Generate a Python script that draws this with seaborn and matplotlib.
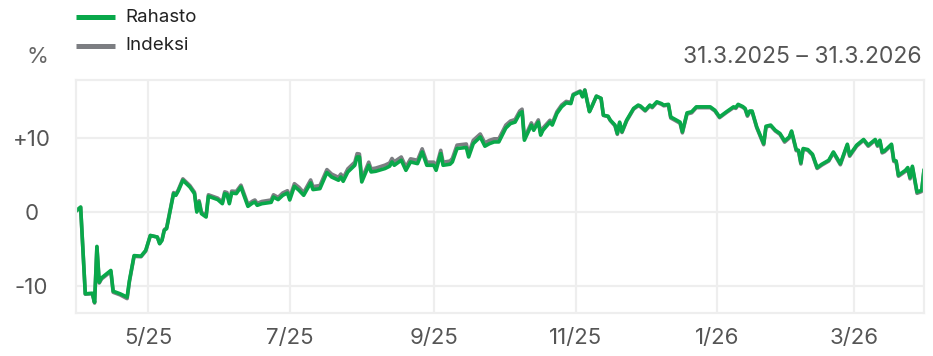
import matplotlib
matplotlib.use("Agg")
import matplotlib.pyplot as plt
from matplotlib.lines import Line2D
import pandas as pd
import seaborn as sns

# --- data -------------------------------------------------------------
dates = [
    "2025-03-31", "2025-04-02", "2025-04-04", "2025-04-07", "2025-04-08", "2025-04-09", "2025-04-10", "2025-04-11",
    "2025-04-15", "2025-04-16", "2025-04-19", "2025-04-22", "2025-04-23", "2025-04-25", "2025-04-28", "2025-04-30",
    "2025-05-02", "2025-05-05", "2025-05-06", "2025-05-07", "2025-05-08", "2025-05-09", "2025-05-12", "2025-05-13",
    "2025-05-14", "2025-05-16", "2025-05-19", "2025-05-21", "2025-05-22", "2025-05-23", "2025-05-24", "2025-05-26",
    "2025-05-27", "2025-05-31", "2025-06-02", "2025-06-03", "2025-06-04", "2025-06-05", "2025-06-06", "2025-06-08",
    "2025-06-10", "2025-06-11", "2025-06-13", "2025-06-15", "2025-06-16", "2025-06-17", "2025-06-19", "2025-06-23",
    "2025-06-24", "2025-06-26", "2025-06-28", "2025-06-30", "2025-07-01", "2025-07-03", "2025-07-05", "2025-07-07",
    "2025-07-10", "2025-07-11", "2025-07-14", "2025-07-17", "2025-07-19", "2025-07-22", "2025-07-23", "2025-07-24",
    "2025-07-26", "2025-07-29", "2025-07-30", "2025-07-31", "2025-08-01", "2025-08-04", "2025-08-05", "2025-08-07",
    "2025-08-11", "2025-08-13", "2025-08-14", "2025-08-15", "2025-08-18", "2025-08-20", "2025-08-22", "2025-08-25",
    "2025-08-27", "2025-08-29", "2025-09-01", "2025-09-02", "2025-09-04", "2025-09-05", "2025-09-08", "2025-09-09",
    "2025-09-11", "2025-09-15", "2025-09-16", "2025-09-18", "2025-09-21", "2025-09-23", "2025-09-25", "2025-09-27",
    "2025-09-29", "2025-10-02", "2025-10-04", "2025-10-06", "2025-10-08", "2025-10-09", "2025-10-10", "2025-10-13",
    "2025-10-14", "2025-10-16", "2025-10-17", "2025-10-18", "2025-10-21", "2025-10-22", "2025-10-24", "2025-10-26",
    "2025-10-28", "2025-10-30", "2025-10-31", "2025-11-03", "2025-11-04", "2025-11-05", "2025-11-07", "2025-11-08",
    "2025-11-10", "2025-11-12", "2025-11-13", "2025-11-15", "2025-11-16", "2025-11-18", "2025-11-19", "2025-11-20",
    "2025-11-21", "2025-11-23", "2025-11-26", "2025-11-28", "2025-11-29", "2025-12-01", "2025-12-03", "2025-12-04",
    "2025-12-06", "2025-12-08", "2025-12-09", "2025-12-11", "2025-12-12", "2025-12-14", "2025-12-16", "2025-12-17",
    "2025-12-19", "2025-12-21", "2025-12-23", "2025-12-29", "2025-12-31", "2026-01-02", "2026-01-05", "2026-01-08",
    "2026-01-09", "2026-01-10", "2026-01-12", "2026-01-13", "2026-01-14", "2026-01-15", "2026-01-16", "2026-01-18",
    "2026-01-21", "2026-01-22", "2026-01-24", "2026-01-26", "2026-01-28", "2026-01-30", "2026-02-01", "2026-02-02",
    "2026-02-04", "2026-02-05", "2026-02-06", "2026-02-07", "2026-02-09", "2026-02-11", "2026-02-13", "2026-02-15",
    "2026-02-18", "2026-02-20", "2026-02-23", "2026-02-26", "2026-02-27", "2026-03-02", "2026-03-05", "2026-03-07",
    "2026-03-10", "2026-03-11", "2026-03-12", "2026-03-13", "2026-03-14", "2026-03-17", "2026-03-18", "2026-03-19",
    "2026-03-20", "2026-03-23", "2026-03-24", "2026-03-25", "2026-03-26", "2026-03-28", "2026-03-30", "2026-03-31",
]

rahasto = [
    0.1, 0.65, -11.05, -10.97, -12.2, -4.66, -9.5, -8.9,
    -7.9, -10.7, -11.05, -11.5, -9.26, -5.9, -5.97, -5.2,
    -3.18, -3.4, -4.3, -3.85, -2.5, -2.27, 2.46, 2.23,
    2.8, 4.26, 3.35, 2.46, -0.03, 1.3, -0.25, -0.7,
    2.1, 1.65, 1.1, 2.46, 2.36, 1.1, 2.54, 2.46,
    3.35, 2.46, 0.74, 1.19, 1.32, 0.88, 1.1, 1.28,
    2.0, 1.65, 2.23, 2.54, 1.6, 3.45, 2.9, 2.23,
    3.9, 3.0, 3.13, 5.3, 4.7, 4.26, 4.7, 4.12,
    5.38, 6.28, 7.4, 7.4, 4.03, 6.28, 5.38, 5.47,
    5.84, 6.15, 6.73, 6.28, 6.96, 5.6, 6.73, 6.5,
    8.08, 6.28, 6.28, 5.6, 7.86, 6.28, 6.42, 6.73,
    8.54, 8.68, 7.4, 9.2, 10.1, 8.85, 9.2, 9.43,
    9.43, 11.3, 11.9, 12.1, 13.27, 13.5, 9.66, 11.7,
    11.0, 12.1, 10.34, 11.0, 12.1, 11.7, 13.27, 14.16,
    14.7, 14.6, 15.74, 16.2, 15.5, 16.4, 13.5, 14.16,
    15.6, 15.3, 13.04, 12.9, 12.36, 11.7, 10.57, 12.1,
    10.8, 12.36, 13.95, 14.4, 14.26, 13.7, 14.4, 14.16,
    14.84, 14.6, 14.4, 14.5, 12.8, 12.45, 12.1, 10.8,
    13.35, 13.5, 14.16, 14.16, 13.7, 12.8, 13.5, 14.16,
    14.08, 14.5, 14.2, 13.95, 13.04, 13.6, 13.6, 11.46,
    9.2, 11.55, 11.7, 11.0, 10.57, 9.57, 10.1, 10.9,
    8.4, 8.3, 6.6, 8.54, 8.4, 7.77, 5.97, 6.42,
    6.96, 8.08, 6.5, 9.12, 7.64, 8.99, 9.76, 8.99,
    9.76, 8.99, 9.66, 8.08, 8.22, 9.12, 6.96, 6.87,
    4.93, 5.6, 5.97, 4.62, 6.15, 2.68, 2.9, 5.7,
]

indeksi = [
    0.1, 0.6, -11.1, -11.05, -12.3, -4.75, -9.6, -9.05,
    -8.05, -10.85, -11.2, -11.7, -9.4, -6.0, -6.05, -5.3,
    -3.2, -3.4, -4.25, -3.8, -2.4, -2.15, 2.6, 2.4,
    2.95, 4.45, 3.55, 2.65, 0.15, 1.5, -0.05, -0.5,
    2.3, 1.85, 1.3, 2.7, 2.6, 1.3, 2.8, 2.75,
    3.6, 2.75, 1.0, 1.45, 1.6, 1.15, 1.4, 1.6,
    2.3, 1.95, 2.55, 2.85, 1.95, 3.8, 3.3, 2.6,
    4.3, 3.4, 3.55, 5.7, 5.1, 4.65, 5.1, 4.55,
    5.8, 6.7, 7.85, 7.8, 4.4, 6.7, 5.8, 5.9,
    6.3, 6.6, 7.2, 6.75, 7.4, 6.05, 7.15, 6.95,
    8.5, 6.7, 6.7, 6.0, 8.3, 6.7, 6.85, 7.2,
    9.0, 9.15, 7.85, 9.65, 10.5, 9.3, 9.65, 9.85,
    9.85, 11.7, 12.25, 12.45, 13.6, 13.85, 9.95, 12.0,
    11.3, 12.4, 10.6, 11.3, 12.35, 11.95, 13.5, 14.4,
    14.9, 14.75, 15.85, 16.3, 15.6, 16.45, 13.55, 14.2,
    15.6, 15.3, 13.0, 12.85, 12.3, 11.6, 10.45, 12.0,
    10.7, 12.25, 13.85, 14.3, 14.15, 13.6, 14.3, 14.05,
    14.75, 14.5, 14.3, 14.4, 12.65, 12.3, 11.95, 10.65,
    13.2, 13.35, 14.05, 14.05, 13.6, 12.7, 13.4, 14.05,
    13.95, 14.4, 14.1, 13.85, 12.9, 13.5, 13.5, 11.35,
    9.05, 11.45, 11.6, 10.9, 10.45, 9.4, 9.95, 10.8,
    8.25, 8.2, 6.45, 8.45, 8.3, 7.65, 5.85, 6.3,
    6.85, 7.95, 6.35, 9.0, 7.5, 8.85, 9.65, 8.85,
    9.65, 8.85, 9.55, 7.95, 8.1, 9.0, 6.8, 6.75,
    4.8, 5.45, 5.85, 4.45, 6.0, 2.5, 2.75, 5.6,
]

series_names = ["Rahasto", "Indeksi"]
x_tick_dates = ["2025-05-01", "2025-07-01", "2025-09-01", "2025-11-01", "2026-01-01", "2026-03-01"]
x_tick_labels = ["5/25", "7/25", "9/25", "11/25", "1/26", "3/26"]
y_ticks = [-10, 0, 10]
y_tick_labels = ["-10", "0", "+10"]
period_label = "31.3.2025 \u2013 31.3.2026"

# --- style ------------------------------------------------------------
GREEN = "#09a84a"
GRAY = "#7c7e82"
GRID = "#eeeeee"
TICK = "#555555"

sns.set_theme(style="white")
plt.rcParams["font.family"] = ["Inter", "DejaVu Sans"]

W, H = 933, 356
fig = plt.figure(figsize=(W / 100, H / 100), dpi=100)
ax = fig.add_axes([76 / W, (H - 313) / H, (924 - 76) / W, (313 - 80) / H])

df = pd.DataFrame({
    "date": pd.to_datetime(dates * 2),
    "value": indeksi + rahasto,
    "series": ["Indeksi"] * len(dates) + ["Rahasto"] * len(dates),
})

sns.lineplot(
    data=df, x="date", y="value", hue="series",
    hue_order=["Indeksi", "Rahasto"],
    palette={"Indeksi": GRAY, "Rahasto": GREEN},
    linewidth=2.6, legend=False, ax=ax,
)

ax.set_xlim(pd.Timestamp("2025-03-31"), pd.Timestamp("2026-03-31"))
ax.set_ylim(-13.64, 17.78)
ax.set_xticks(pd.to_datetime(x_tick_dates))
ax.set_xticklabels(x_tick_labels)
ax.set_yticks(y_ticks)
ax.set_yticklabels(y_tick_labels, ha="center")
ax.set_xlabel("")
ax.set_ylabel("")

ax.grid(True, color=GRID, linewidth=1.6)
for s in ax.spines.values():
    s.set_color(GRID)
    s.set_linewidth(1.6)
ax.tick_params(axis="both", length=0, labelsize=16, colors=TICK)
ax.tick_params(axis="x", pad=11)
ax.tick_params(axis="y", pad=32)

# header texts
fig.text(37 / W, 1 - 57 / H, "%", ha="center", va="center", fontsize=16, color="#666666")
fig.text(922 / W, 1 - 57 / H, period_label, ha="right", va="center", fontsize=16.5, color=TICK)

# legend
for i, (name, col) in enumerate(zip(series_names, [GREEN, GRAY])):
    yy = 1 - (17 + 29 * i) / H
    fig.add_artist(Line2D([76 / W, 115 / W], [yy, yy], color=col, linewidth=3.6,
                          solid_capstyle="butt"))
    fig.text(125 / W, yy, name, ha="left", va="center", fontsize=13.5, color="#222222")

fig.savefig("out.png", dpi=100)
